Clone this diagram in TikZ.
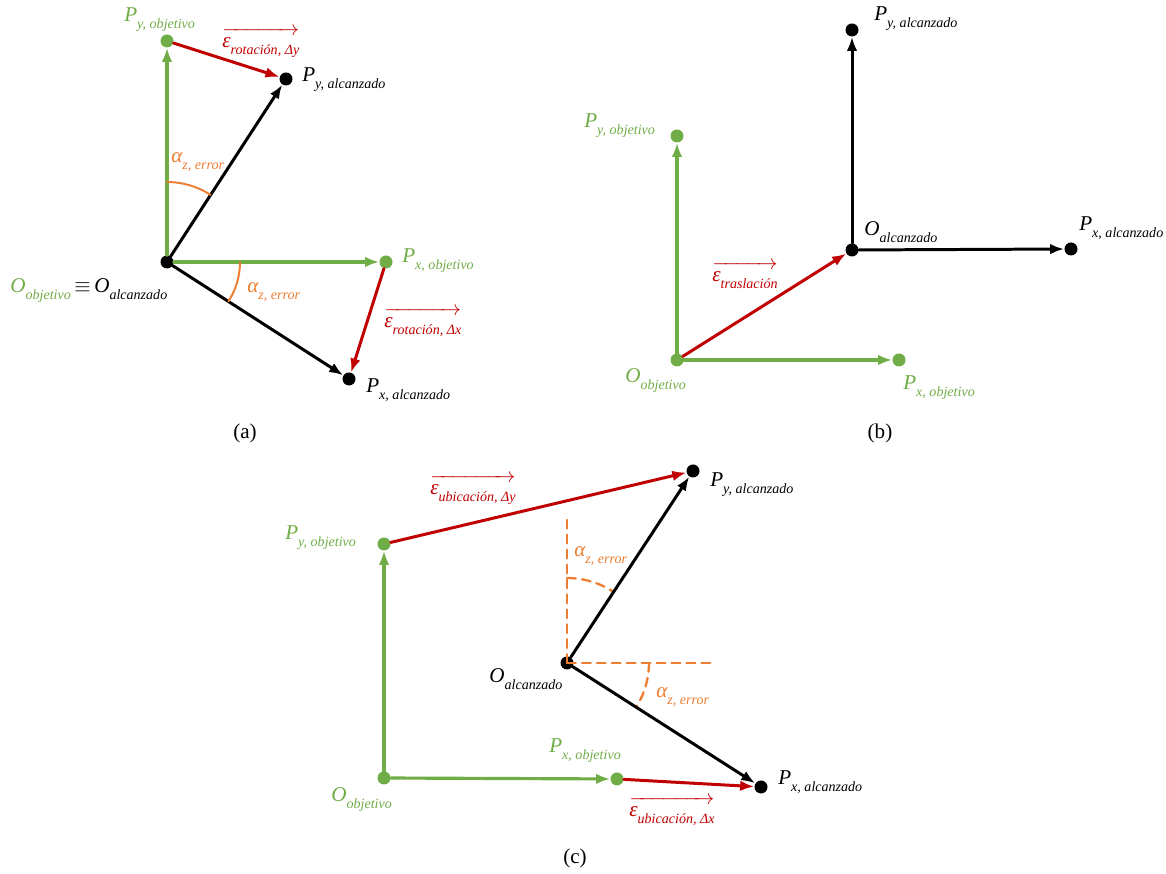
\documentclass[tikz,border=0pt]{standalone}
\usepackage{fontspec}
\setmainfont{Liberation Serif}
\usepackage{amsmath}
\usepackage{tikz}
\usetikzlibrary{arrows.meta}
\definecolor{OGreen}{RGB}{112,173,71}
\definecolor{ERed}{RGB}{192,0,0}
\definecolor{AOrange}{RGB}{237,125,49}
\newcommand{\lsub}[1]{\raisebox{-0.3em}{\fontsize{8}{9}\selectfont #1}}
\newcommand{\vecerr}[1]{$\overrightarrow{\mbox{\rule{0pt}{0.6em}ε\lsub{#1}}}$}
\tikzset{every node/.style={font=\fontsize{12}{14}\selectfont}, every path/.style={line cap=round, line join=round}, >={Latex[length=2.8mm, width=2.1mm]}}

\begin{document}
\begin{tikzpicture}[
    x=0.02cm, y=0.02cm,
    dot/.style={circle, inner sep=0pt, minimum size=2.6mm, fill=black},
    gdot/.style={dot, fill=OGreen},
    gvec/.style={->, draw=OGreen, line width=1.8pt},
    bvec/.style={->, draw=black, line width=1.7pt},
    rvec/.style={->, draw=ERed, line width=1.7pt},
    angarc/.style={draw=AOrange, line width=1.1pt},
    angdash/.style={draw=AOrange, line width=1.3pt, dash pattern=on 5pt off 3.5pt},
    lbl/.style={anchor=base west, inner sep=0pt, font=\fontsize{12}{14}\selectfont\itshape},
    subcap/.style={font=\fontsize{12}{14}\selectfont}
]
    \useasboundingbox (0,0) rectangle (1166,874);

    % (a)
    \node [gdot] (aPyo) at (167,833) {};
    \node [gdot] (aPxo) at (386,612) {};
    \node [dot] (aO) at (167,612) {};
    \node [dot] (aPya) at (286,795) {};
    \node [dot] (aPxa) at (349,495) {};
    \draw [gvec] (aO) -- (aPyo);
    \draw [gvec] (aO) -- (aPxo);
    \draw [bvec] (aO) -- (aPya);
    \draw [bvec] (aO) -- (aPxa);
    \draw [rvec] (aPyo) -- (aPya);
    \draw [rvec] (aPxo) -- (aPxa);
    \draw [angarc] (aO.center) ++(90:80) arc [start angle=90, end angle=57, radius=80];
    \draw [angarc] (aO.center) ++(0:73) arc [start angle=0, end angle=-32.7, radius=73];
    \node [lbl, text=OGreen] (aPyoL) at (124,852) {P\lsub{y, objetivo}};
    \node [lbl, text=ERed] (aEyL) at (222,826) {\vecerr{rotación, Δy}};
    \node [lbl] (aPyaL) at (302,792) {P\lsub{y, alcanzado}};
    \node [lbl, text=OGreen] (aPxoL) at (402,611) {P\lsub{x, objetivo}};
    \node [lbl, text=ERed] (aExL) at (384,546) {\vecerr{rotación, Δx}};
    \node [lbl] (aPxaL) at (366,481) {P\lsub{x, alcanzado}};
    \node [lbl] (aOL) at (10,581) {\textcolor{OGreen}{O\lsub{objetivo}}\,$\equiv$\,O\lsub{alcanzado}};
    \node [lbl, text=AOrange] (aA1L) at (171,711) {α\lsub{z, error}};
    \node [lbl, text=AOrange] (aA2L) at (247,581) {α\lsub{z, error}};
    \node [subcap] (capA) at (245,441) {(a)};

    % (b)
    \node [gdot] (bOo) at (677,514) {};
    \node [gdot] (bPyo) at (677,738) {};
    \node [gdot] (bPxo) at (899,514) {};
    \node [dot] (bOa) at (852,624) {};
    \node [dot] (bPya) at (852,844) {};
    \node [dot] (bPxa) at (1071,625) {};
    \draw [gvec] (bOo) -- (bPyo);
    \draw [gvec] (bOo) -- (bPxo);
    \draw [rvec] (bOo) -- (bOa);
    \draw [bvec] (bOa) -- (bPya);
    \draw [bvec] (bOa) -- (bPxa);
    \node [lbl] (bPyaL) at (874,853) {P\lsub{y, alcanzado}};
    \node [lbl, text=OGreen] (bPyoL) at (584,746) {P\lsub{y, objetivo}};
    \node [lbl] (bOaL) at (864,638) {O\lsub{alcanzado}};
    \node [lbl] (bPxaL) at (1079,643) {P\lsub{x, alcanzado}};
    \node [lbl, text=ERed] (bEL) at (712,592) {\vecerr{traslación}};
    \node [lbl, text=OGreen] (bOoL) at (625,491) {O\lsub{objetivo}};
    \node [lbl, text=OGreen] (bPxoL) at (903,484) {P\lsub{x, objetivo}};
    \node [subcap] (capB) at (880,441) {(b)};

    % (c)
    \node [gdot] (cOo) at (384,96) {};
    \node [gdot] (cPyo) at (384,330) {};
    \node [gdot] (cPxo) at (617,95) {};
    \node [dot] (cOa) at (567,211) {};
    \node [dot] (cPya) at (693,403) {};
    \node [dot] (cPxa) at (761,87) {};
    \draw [angdash] (cOa.center) -- (567,354);
    \draw [angdash] (cOa.center) -- (712,211);
    \draw [angdash] (cOa.center) ++(90:85) arc [start angle=90, end angle=56.7, radius=85];
    \draw [angdash] (cOa.center) ++(0:82) arc [start angle=0, end angle=-32.6, radius=82];
    \draw [gvec] (cOo) -- (cPyo);
    \draw [gvec] (cOo) -- (cPxo);
    \draw [bvec] (cOa) -- (cPya);
    \draw [bvec] (cOa) -- (cPxa);
    \draw [rvec] (cPyo) -- (cPya);
    \draw [rvec] (cPxo) -- (cPxa);
    \node [lbl, text=ERed] (cEyL) at (430,379) {\vecerr{ubicación, Δy}};
    \node [lbl] (cPyaL) at (710,387) {P\lsub{y, alcanzado}};
    \node [lbl, text=OGreen] (cPyoL) at (285,334) {P\lsub{y, objetivo}};
    \node [lbl, text=AOrange] (cA1L) at (574,317) {α\lsub{z, error}};
    \node [lbl] (cOaL) at (489,191) {O\lsub{alcanzado}};
    \node [lbl, text=AOrange] (cA2L) at (656,176) {α\lsub{z, error}};
    \node [lbl, text=OGreen] (cPxoL) at (549,121) {P\lsub{x, objetivo}};
    \node [lbl] (cPxaL) at (778,89) {P\lsub{x, alcanzado}};
    \node [lbl, text=OGreen] (cOoL) at (331,72) {O\lsub{objetivo}};
    \node [lbl, text=ERed] (cExL) at (629,57) {\vecerr{ubicación, Δx}};
    \node [subcap] (capC) at (575,16) {(c)};
\end{tikzpicture}
\end{document}
